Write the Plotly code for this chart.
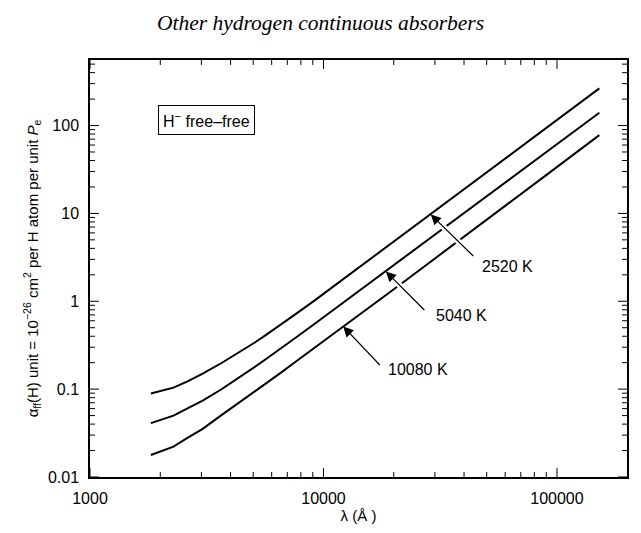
import numpy as np
import plotly.graph_objects as go

# ---- data ----
wavelength = [1823, 2278, 2604, 3038, 3645, 4557, 5063, 5696, 6510, 7595, 9113,
              11391, 15188, 18227, 22784, 30378, 45567, 60756, 91134, 113918, 151890]
alpha_2520 = [0.089, 0.104, 0.122, 0.150, 0.197, 0.280, 0.337, 0.418, 0.533, 0.715, 1.01,
              1.57, 2.76, 3.93, 6.10, 10.8, 24.2, 43.0, 96.0, 150.0, 265.0]
alpha_5040 = [0.041, 0.050, 0.060, 0.074, 0.099, 0.146, 0.178, 0.222, 0.285, 0.385, 0.548,
              0.85, 1.49, 2.12, 3.28, 5.8, 12.9, 22.8, 51.0, 79.0, 140.0]
alpha_10080 = [0.0178, 0.0222, 0.0277, 0.0353, 0.0502, 0.0763, 0.0933, 0.117, 0.151, 0.205, 0.292,
               0.456, 0.796, 1.14, 1.77, 3.12, 7.02, 12.5, 28.0, 43.7, 77.8]
series_names = ["2520 K", "5040 K", "10080 K"]
arrow_wavelengths = [28800, 18500, 12150]

x_tickvals = [1000, 10000, 100000]
x_ticktext = ["1000", "10000", "100000"]
y_tickvals = [0.01, 0.1, 1, 10, 100]
y_ticktext = ["0.01", "0.1", "1", "10", "100"]
x_minor = [m * 10 ** e for e in range(3, 6) for m in range(2, 10)]
y_minor = [m * 10 ** e for e in range(-2, 3) for m in range(2, 10)]

series = [alpha_2520, alpha_5040, alpha_10080]
x_range = [3, 5.3]
y_range = [-2, 2.746]

W, H = 641, 533
M = dict(l=90, r=12, t=60, b=53)
plot_w = W - M["l"] - M["r"]
plot_h = H - M["t"] - M["b"]

fig = go.Figure()
for name, vals in zip(series_names, series):
    fig.add_trace(go.Scatter(x=wavelength, y=vals, mode="lines", name=name,
                             line=dict(color="black", width=2)))

font_sans = "Liberation Sans, Arial, sans-serif"

# ---- tick marks on all four sides (inside), placed from the tick value lists ----
def frac(v, rng):
    return (np.log10(v) - rng[0]) / (rng[1] - rng[0])

tick_shapes = []
for vals_list, length in ((x_tickvals, 9), (x_minor, 5)):
    for v in vals_list:
        f = float(frac(v, x_range))
        if 0 <= f <= 1:
            d = length / plot_h
            for y0, y1 in ((0, d), (1, 1 - d)):
                tick_shapes.append(dict(type="line", xref="x domain", yref="y domain",
                                        x0=f, x1=f, y0=y0, y1=y1,
                                        line=dict(color="black", width=1), layer="above"))
for vals_list, length in ((y_tickvals, 9), (y_minor, 5)):
    for v in vals_list:
        f = float(frac(v, y_range))
        if 0 <= f <= 1:
            d = length / plot_w
            for x0, x1 in ((0, d), (1, 1 - d)):
                tick_shapes.append(dict(type="line", xref="x domain", yref="y domain",
                                        x0=x0, x1=x1, y0=f, y1=f,
                                        line=dict(color="black", width=1), layer="above"))

# arrows pointing to curves
arrow_offsets = [(44, 43), (40, 40), (38, 40)]
label_pos = [(0.727, 0.505), (0.640, 0.388), (0.551, 0.257)]
lw = np.log10(wavelength)
for name, vals, lam, (ax, ay), (lx, ly) in zip(series_names, series, arrow_wavelengths,
                                                arrow_offsets, label_pos):
    lx_tip = float(np.log10(lam))
    ly_tip = float(np.interp(lx_tip, lw, np.log10(vals)))
    fig.add_annotation(x=lx_tip, y=ly_tip, xref="x", yref="y",
                       text="", showarrow=True, ax=ax, ay=ay,
                       arrowhead=0, arrowwidth=6, arrowcolor="white", standoff=9)
    fig.add_annotation(x=lx_tip, y=ly_tip, xref="x", yref="y",
                       text="", showarrow=True, ax=ax, ay=ay,
                       arrowhead=2, arrowsize=1.7, arrowwidth=1.2, arrowcolor="black",
                       standoff=0)
    fig.add_annotation(x=lx, y=ly, xref="paper", yref="paper", text=name,
                       showarrow=False, xanchor="left", yanchor="middle",
                       font=dict(family=font_sans, size=16, color="black"))

fig.add_annotation(x=0.217, y=0.857, xref="paper", yref="paper",
                   text="H<sup>\u2212</sup> free\u2013free", showarrow=False,
                   xanchor="center", yanchor="middle",
                   bordercolor="black", borderwidth=1, borderpad=4,
                   font=dict(family=font_sans, size=16, color="black"))

axis_common = dict(showline=True, linecolor="black", linewidth=1.5, mirror=True,
                   ticks="", showgrid=False, zeroline=False, ticklabelstandoff=6,
                   tickfont=dict(family=font_sans, size=16, color="black"))

fig.update_xaxes(type="log", range=x_range,
                 tickmode="array", tickvals=x_tickvals, ticktext=x_ticktext,
                 title=dict(text="\u03bb (\u00c5 )",
                            font=dict(family=font_sans, size=15, color="black"), standoff=4),
                 **axis_common)
fig.update_yaxes(type="log", range=y_range,
                 tickmode="array", tickvals=y_tickvals, ticktext=y_ticktext,
                 title=dict(text="\u03b1<sub>ff</sub>(H) unit = 10<sup>\u221226</sup> cm<sup>2</sup> per H atom per unit <i>P</i><sub>e</sub>",
                            font=dict(family=font_sans, size=15, color="black"), standoff=6),
                 **axis_common)

fig.update_layout(
    width=W, height=H, margin=M, showlegend=False,
    shapes=tick_shapes,
    paper_bgcolor="white", plot_bgcolor="white",
    title=dict(text="<i>Other hydrogen continuous absorbers</i>", x=0.5, xref="container",
               xanchor="center", y=0.958, yanchor="middle",
               font=dict(family="Liberation Serif, Times New Roman, serif", size=21.5,
                         color="black")),
)

fig.write_html("out.html")
